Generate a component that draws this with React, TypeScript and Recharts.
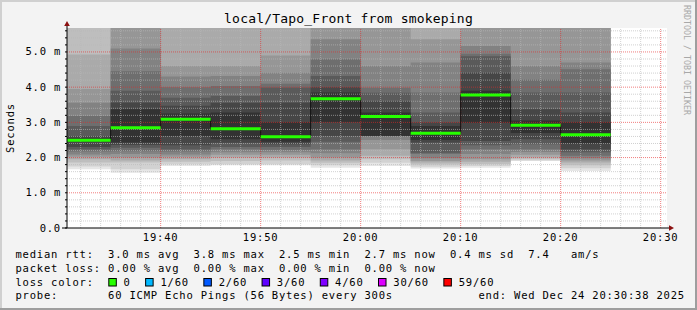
import React from "react";
import {
  ComposedChart,
  Area,
  Line,
  XAxis,
  YAxis,
} from "recharts";

const W = 697;
const H = 310;
const MONO = "'DejaVu Sans Mono', monospace";

// smokeping 5 minute steps
const STEP_START = [
  "19:30", "19:35", "19:40", "19:45", "19:50", "19:55",
  "20:00", "20:05", "20:10", "20:15", "20:20",
];
const STEP_LAST_END = "20:25";
const WINDOW = ["19:30:38", "20:30:38"];

// median rtt per step, ms
const MEDIAN = [2.49, 2.85, 3.09, 2.82, 2.59, 3.67, 3.17, 2.69, 3.78, 2.92, 2.65];

// smoke bands, outermost (lightest) first: lower edge of each band, ms
const SMOKE_LO = [
  [1.67, 1.75, 1.86, 1.95, 2.02, 2.09, 2.17, 2.24, 2.3, 2.45],
  [1.57, 1.67, 1.86, 1.92, 2.0, 2.1, 2.18, 2.28, 2.36, 2.43],
  [1.76, 1.81, 1.88, 1.95, 2.02, 2.09, 2.17, 2.24, 2.35, 2.61],
  [1.78, 1.81, 1.9, 2.0, 2.08, 2.15, 2.24, 2.3, 2.42, 2.52],
  [1.78, 1.81, 1.92, 2.0, 2.08, 2.15, 2.22, 2.3, 2.38, 2.45],
  [1.71, 1.78, 1.85, 1.92, 2.0, 2.12, 2.24, 2.45, 2.61, 3.0],
  [1.76, 1.85, 1.95, 2.05, 2.24, 2.5, 2.6, 2.61, 2.61, 2.61],
  [1.69, 1.74, 1.8, 1.86, 1.9, 1.98, 2.1, 2.14, 2.43, 2.5],
  [1.71, 1.76, 1.82, 1.88, 1.95, 2.1, 2.24, 2.35, 2.47, 2.99],
  [1.9, 1.92, 1.95, 2.0, 2.08, 2.16, 2.24, 2.38, 2.52, 2.7],
  [1.62, 1.7, 1.78, 1.86, 1.92, 1.98, 2.05, 2.15, 2.24, 2.4],
];
// upper edge of each band, ms (the outer ones run off the top)
const SMOKE_HI = [
  [9, 7, 6.2, 4.93, 3.95, 3.56, 3.18, 2.9, 2.61, 2.55],
  [14, 11, 9, 7, 6.0, 5.1, 4.45, 3.9, 3.56, 3.37],
  [12, 9, 7.5, 6.2, 4.6, 4.3, 4.0, 3.7, 3.47, 3.25],
  [11, 8.5, 6.8, 6.0, 4.6, 4.32, 4.03, 3.75, 3.55, 3.28],
  [11, 8.5, 6.8, 6.0, 4.9, 4.41, 4.1, 3.99, 3.56, 3.0],
  [14, 11, 9, 7.5, 6.2, 5.36, 4.79, 4.32, 4.0, 3.85],
  [11, 8.5, 7.5, 6.8, 6.0, 4.6, 3.98, 3.84, 3.6, 3.28],
  [11, 8.5, 6.8, 6.0, 5.36, 4.7, 3.85, 3.28, 3.0, 2.9],
  [14, 11, 9, 7.5, 6.2, 5.17, 4.95, 4.88, 4.41, 3.9],
  [12, 9, 7.5, 6.5, 6.0, 4.6, 4.22, 3.85, 3.37, 3.05],
  [12, 9, 7.5, 6.5, 6.0, 4.7, 4.51, 3.85, 3.28, 3.0],
];
const SHADES = [
  "#e6e6e6", "#d2d2d2", "#bebebe", "#aaaaaa", "#969696",
  "#828282", "#6e6e6e", "#5a5a5a", "#464646", "#323232",
];

const Y_MAX = 5.68;
const Y_LABELS = ["0.0", "1.0 m", "2.0 m", "3.0 m", "4.0 m", "5.0 m"];
const X_LABELS = ["19:40", "19:50", "20:00", "20:10", "20:20", "20:30"];

const LOSS_LABELS = ["0", "1/60", "2/60", "3/60", "4/60", "30/60", "59/60"];
const LOSS_COLORS = ["#26ff00", "#00b8ff", "#0059ff", "#5e00ff", "#7e00ff", "#dd00ff", "#ff0000"];

const LEGEND_ROWS = [
  "median rtt:  3.0 ms avg  3.8 ms max  2.5 ms min  2.7 ms now  0.4 ms sd  7.4   am/s",
  "packet loss: 0.00 % avg  0.00 % max  0.00 % min  0.00 % now",
  "loss color:",
  "probe:       60 ICMP Echo Pings (56 Bytes) every 300s            end: Wed Dec 24 20:30:38 2025",
];

const toMin = (s: string) => {
  const [h, m, sec = "0"] = s.split(":");
  return Number(h) * 60 + Number(m) + Number(sec) / 60;
};

const T0 = toMin(WINDOW[0]);
const T1 = toMin(WINDOW[1]);

const rows: Record<string, any>[] = STEP_START.map((s, i) => {
  const row: Record<string, any> = { t: toMin(s), med: MEDIAN[i] };
  SHADES.forEach((_, k) => {
    row[`b${k}`] = [SMOKE_LO[i][k], SMOKE_HI[i][k]];
  });
  return row;
});
// closing point for the step curves
rows.push({ ...rows[rows.length - 1], t: toMin(STEP_LAST_END) });

const medianSegments = MEDIAN.map((m, i) => [
  { t: toMin(STEP_START[i]), v: m },
  { t: toMin(i + 1 < STEP_START.length ? STEP_START[i + 1] : STEP_LAST_END), v: m },
]);

const Y_TICKS = Array.from({ length: 29 }, (_, i) => Math.round(i * 2) / 10);
const X_TICKS = Array.from({ length: 30 }, (_, i) => 1172 + i * 2);

const isMajorY = (v: number) => Math.abs(v - Math.round(v)) < 1e-6;
const isMajorX = (v: number) => v % 10 === 0;

const hLine = (v: number) => [{ t: T0, v }, { t: T1, v }];
const vLine = (t: number) => [{ t, v: 0 }, { t, v: Y_MAX }];

// grid lines as two-point series: minor grey, major red
const minorGrid = [
  ...Y_TICKS.filter((v) => v > 0 && !isMajorY(v)).map(hLine),
  ...X_TICKS.filter((t) => !isMajorX(t)).map(vLine),
];
const majorGrid = [
  ...Y_TICKS.filter((v) => v > 0 && isMajorY(v)).map(hLine),
  ...X_TICKS.filter(isMajorX).map(vLine),
];

const fmtTime = (v: number) => {
  const h = Math.floor(v / 60);
  const m = Math.round(v - h * 60);
  return `${h}:${String(m).padStart(2, "0")}`;
};

const textStyle = {
  fontFamily: MONO,
  fontSize: 10.5,
  letterSpacing: 0.8,
  fill: "#000",
};

function YTick({ x, y, payload }: any) {
  const v = payload.value;
  if (!isMajorY(v)) return <g />;
  return (
    <text x={x} y={y + 3.5} textAnchor="end" style={textStyle}>
      {Y_LABELS[Math.round(v)]}
    </text>
  );
}

function XTick({ x, y, payload }: any) {
  const label = fmtTime(payload.value);
  if (!X_LABELS.includes(label)) return <g />;
  return (
    <text x={x} y={y + 12.7} textAnchor="middle" style={textStyle}>
      {label}
    </text>
  );
}

const MINOR = "rgba(185,185,185,0.65)";
const MAJOR = "rgba(230,40,40,0.6)";
const MARGIN = { top: 28, right: 30, bottom: 52, left: 7 };

export default function App() {
  // loss colour legend laid out like rrdtool does: box, label, gap
  let cx = 108.3;
  const lossItems = LOSS_LABELS.map((label, i) => {
    const item = { label, color: LOSS_COLORS[i], box: cx, text: cx + 15.3 };
    cx = item.text + label.length * 7.13 + 14.4;
    return item;
  });

  return (
    <div
      style={{
        position: "absolute",
        left: 0,
        top: 0,
        width: W,
        height: H,
        background: "#f3f3f3",
      }}
    >
      <svg width={W} height={H} style={{ position: "absolute", left: 0, top: 0 }}>
        <rect x={0} y={0} width={W} height={2} fill="#d0d0d0" />
        <rect x={0} y={0} width={2} height={H} fill="#d0d0d0" />
        <rect x={0} y={H - 2} width={W} height={2} fill="#9e9e9e" />
        <rect x={W - 2} y={0} width={2} height={H} fill="#9e9e9e" />
        <rect x={67} y={28} width={600} height={200} fill="#ffffff" />

        <text
          x={348.5}
          y={23.3}
          textAnchor="middle"
          style={{ fontFamily: MONO, fontSize: 13, letterSpacing: 0.2, fill: "#000" }}
        >
          local/Tapo_Front from smokeping
        </text>

        <text
          x={14}
          y={128}
          textAnchor="middle"
          transform="rotate(-90 14 128)"
          style={textStyle}
        >
          Seconds
        </text>

        <text
          x={684.3}
          y={5}
          transform="rotate(90 684.3 5)"
          style={{ fontFamily: MONO, fontSize: 8.3, fill: "#a8a8a8" }}
        >
          RRDTOOL / TOBI OETIKER
        </text>

        {/* axis extensions and arrows */}
        <line x1={67} y1={28} x2={67} y2={25} stroke="#000" />
        <line x1={62} y1={228} x2={67} y2={228} stroke="#000" />
        <line x1={667} y1={228} x2={669} y2={228} stroke="#000" />
        <polygon points="67,21 64.2,26 69.8,26" fill="#8b1010" />
        <polygon points="674,228 669,225.2 669,230.8" fill="#8b1010" />

        {LEGEND_ROWS.map((r, i) => (
          <text
            key={i}
            x={15.5}
            y={258.3 + i * 13.7}
            xmlSpace="preserve"
            style={{ ...textStyle, whiteSpace: "pre" }}
          >
            {r}
          </text>
        ))}
        {lossItems.map((it) => (
          <g key={it.label}>
            <rect
              x={it.box + 0.5}
              y={278.5}
              width={7.5}
              height={7.5}
              fill={it.color}
              stroke="#000"
            />
            <text x={it.text} y={258.3 + 2 * 13.7} style={textStyle}>
              {it.label}
            </text>
          </g>
        ))}
      </svg>

      {/* smoke layer */}
      <div style={{ position: "absolute", left: 0, top: 0 }}>
        <ComposedChart width={W} height={H} data={rows} margin={MARGIN}>
          <XAxis
            dataKey="t"
            type="number"
            domain={[T0, T1]}
            allowDataOverflow
            tick={false}
            tickLine={false}
            axisLine={false}
            height={30}
          />
          <YAxis
            type="number"
            domain={[0, Y_MAX]}
            allowDataOverflow
            tick={false}
            tickLine={false}
            axisLine={false}
            width={60}
          />
          {SHADES.map((shade, k) => (
            <Area
              key={k}
              dataKey={`b${k}`}
              type="stepAfter"
              stroke="none"
              fill={shade}
              fillOpacity={1}
              isAnimationActive={false}
              activeDot={false}
              dot={false}
            />
          ))}
        </ComposedChart>
      </div>

      {/* grid, axes and median on top of the smoke */}
      <div style={{ position: "absolute", left: 0, top: 0 }}>
        <ComposedChart width={W} height={H} data={rows} margin={MARGIN}>
          <XAxis
            dataKey="t"
            type="number"
            domain={[T0, T1]}
            allowDataOverflow
            ticks={X_TICKS}
            interval={0}
            tick={(p: any) => <XTick {...p} />}
            tickLine={false}
            tickSize={0}
            tickMargin={0}
            height={30}
            axisLine={{ stroke: "#000" }}
          />
          <YAxis
            type="number"
            domain={[0, Y_MAX]}
            allowDataOverflow
            ticks={Y_TICKS}
            interval={0}
            tick={(p: any) => <YTick {...p} />}
            tickLine={{ stroke: "#000" }}
            tickSize={2}
            tickMargin={4}
            width={60}
            axisLine={{ stroke: "#000" }}
          />
          {minorGrid.map((seg, i) => (
            <Line
              key={`m${i}`}
              data={seg}
              dataKey="v"
              type="linear"
              stroke={MINOR}
              strokeWidth={1}
              strokeDasharray="1 1"
              dot={false}
              activeDot={false}
              isAnimationActive={false}
            />
          ))}
          {majorGrid.map((seg, i) => (
            <Line
              key={`g${i}`}
              data={seg}
              dataKey="v"
              type="linear"
              stroke={MAJOR}
              strokeWidth={1}
              strokeDasharray="1 1"
              dot={false}
              activeDot={false}
              isAnimationActive={false}
            />
          ))}
          <Line
            dataKey="med"
            type="stepAfter"
            stroke="#111"
            strokeWidth={1}
            dot={false}
            activeDot={false}
            isAnimationActive={false}
          />
          {medianSegments.map((seg, i) => (
            <Line
              key={`s${i}`}
              data={seg}
              dataKey="v"
              type="linear"
              stroke={LOSS_COLORS[0]}
              strokeWidth={3}
              dot={false}
              activeDot={false}
              isAnimationActive={false}
            />
          ))}
        </ComposedChart>
      </div>
    </div>
  );
}
